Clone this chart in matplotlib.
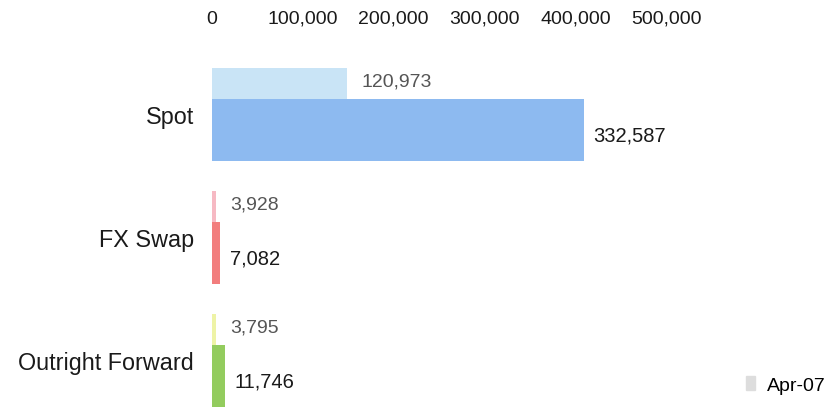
import matplotlib.pyplot as plt
from matplotlib.patches import Patch
import numpy as np

# Turnover by instrument, two survey periods
categories = ["Spot", "FX Swap", "Outright Forward"]
earlier_values = [120973, 3928, 3795]
later_values = [332587, 7082, 11746]
axis_ticks = [0, 100000, 200000, 300000, 400000, 500000]

light_colors = ["#c9e4f6", "#f6b9c3", "#eef3a6"]
dark_colors = ["#8dbaf0", "#f27d7d", "#93cc5e"]

plt.rcParams['font.family'] = ['Liberation Sans', 'DejaVu Sans']

fig = plt.figure(figsize=(8.27, 4.10), dpi=100)
ax = fig.add_axes([212 / 827, 0, 600 / 827, 360 / 410])

y = np.arange(len(categories))
light_h = 0.25
dark_h = 0.5

ax.barh(y - 0.25, earlier_values, height=light_h, color=light_colors)
ax.barh(y + 0.13, later_values, height=dark_h, color=dark_colors)

# bars use a px-per-unit scale of ~0.001118
ax.set_xlim(0, 536670)
ax.set_ylim(2.398, -0.528)

for yi, v in zip(y, earlier_values):
    ax.annotate(f"{v:,}", (v, yi - 0.27), xytext=(10, 0), textcoords="offset points",
                va="center", ha="left", fontsize=14, color="#555555")
for yi, v in zip(y, later_values):
    ax.annotate(f"{v:,}", (v, yi + 0.17), xytext=(7, 0), textcoords="offset points",
                va="center", ha="left", fontsize=14.5, color="#1a1a1a")

ax.set_yticks(y)
ax.set_yticklabels(categories, fontsize=16.8, color="#1a1a1a")
ax.tick_params(axis="y", length=0, pad=13)
ax.set_xticks([])
for s in ax.spines.values():
    s.set_visible(False)

# value axis drawn along the top with its own scale
top = ax.twiny()
top.set_xlim(3286, 3286 + 657174)
top.set_xticks(axis_ticks)
top.set_xticklabels([f"{t:,}" for t in axis_ticks], fontsize=14, color="#1a1a1a")
top.tick_params(axis="x", length=0, pad=16)
for s in top.spines.values():
    s.set_visible(False)

fig.legend(handles=[Patch(color="#dddddd", label="Apr-07")], loc="center left",
           bbox_to_anchor=(728 / 827, 1 - 386 / 410), frameon=False,
           handlelength=0.5, handleheight=0.7, handletextpad=0.6, fontsize=14)

fig.savefig("out.png", dpi=100)
